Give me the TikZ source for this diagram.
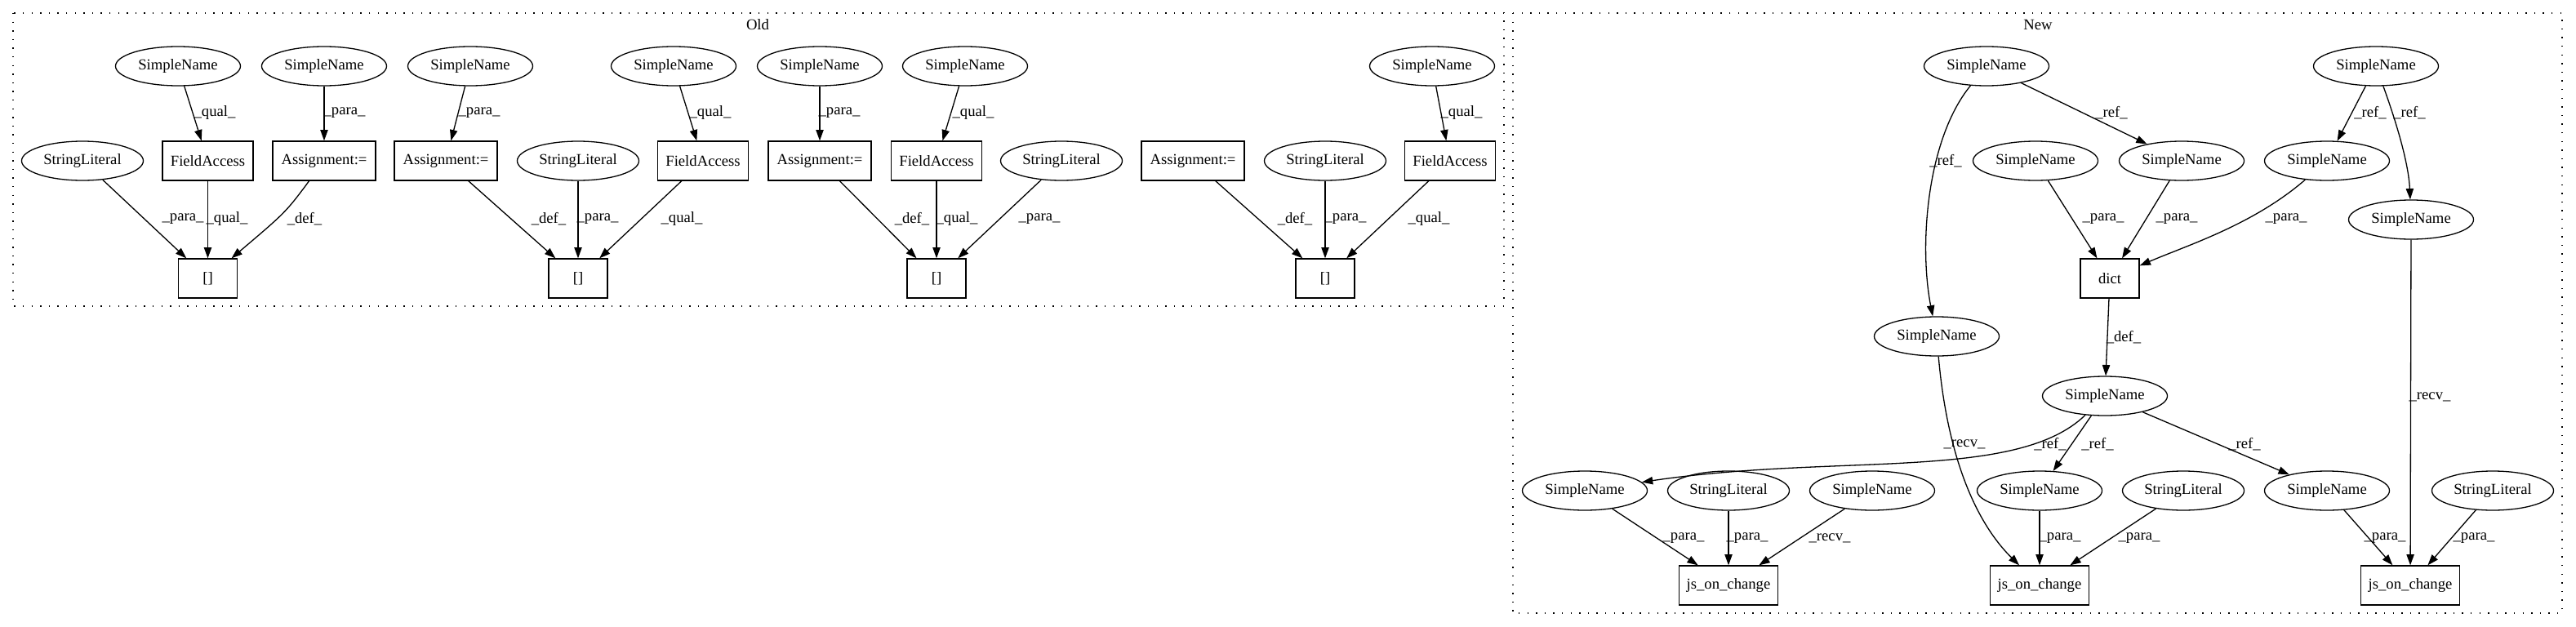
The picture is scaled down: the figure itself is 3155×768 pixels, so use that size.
\documentclass[tikz,border=0pt]{standalone}
\usepackage{fontspec}
\setmainfont{Liberation Serif}
\usetikzlibrary{shapes.geometric,arrows.meta}
\newcommand\gvf{\fontsize{18.67}{22}\selectfont}
\tikzset{
  base/.style={draw, line width=1.3pt, inner sep=0pt, font=\gvf, minimum height=48pt},
  sn/.style={base, ellipse, minimum width=153pt},
  sl/.style={base, ellipse, minimum width=149pt},
  fa/.style={base, rectangle, minimum width=111pt},
  as/.style={base, rectangle, minimum width=126pt},
  br/.style={base, rectangle, minimum width=72pt},
  js/.style={base, rectangle, minimum width=121pt},
  edge/.style={-{Triangle[length=13.3pt,width=9.3pt]}, line width=1.3pt},
  lbl/.style={font=\gvf, inner sep=0pt},
  cluster/.style={line width=1.4pt, dash pattern=on 1.4pt off 9.2pt}
}
\begin{document}
\begin{tikzpicture}[x=1pt,y=-1pt]
\useasboundingbox (0,0) rectangle (3155,768);
% clusters
\draw[cluster] (16,16) rectangle (1842,375);
\draw[cluster] (1853,16) rectangle (3138,751);
\node[lbl] (oldlbl) at (928,30) {Old};
\node[lbl] (newlbl) at (2496,30) {New};

% ---------------- Old ----------------
\node[sl] (osl1) at (101,197) {StringLiteral};
\node[sn] (osn1) at (218,81) {SimpleName};
\node[fa] (ofa1) at (254.5,197) {FieldAccess};
\node[sn] (osn2) at (397,81) {SimpleName};
\node[as] (oas1) at (397,197) {Assignment:=};
\node[br] (obr1) at (254.5,341) {[]};

\node[sn] (osn3) at (576,81) {SimpleName};
\node[as] (oas2) at (546,197) {Assignment:=};
\node[sl] (osl2) at (708,197) {StringLiteral};
\node[sn] (osn4) at (825,81) {SimpleName};
\node[fa] (ofa2) at (861,197) {FieldAccess};
\node[br] (obr2) at (708,341) {[]};

\node[sn] (osn5) at (1004,81) {SimpleName};
\node[as] (oas3) at (1004,197) {Assignment:=};
\node[sn] (osn6) at (1182,81) {SimpleName};
\node[fa] (ofa3) at (1147,197) {FieldAccess};
\node[sl] (osl3) at (1300,197) {StringLiteral};
\node[br] (obr3) at (1147,341) {[]};

\node[as] (oas4) at (1461,197) {Assignment:=};
\node[sl] (osl4) at (1623,197) {StringLiteral};
\node[sn] (osn7) at (1754,81) {SimpleName};
\node[fa] (ofa4) at (1776,197) {FieldAccess};
\node[br] (obr4) at (1623,341) {[]};

\draw[edge] (osn1) -- (ofa1);
\draw[edge] (osn2) -- (oas1);
\draw[edge] (osl1) -- (obr1);
\draw[edge] (ofa1) -- (obr1);
\draw[edge] (oas1) .. controls (350,260) .. (obr1);
\draw[edge] (osn3) -- (oas2);
\draw[edge] (osn4) -- (ofa2);
\draw[edge] (oas2) -- (obr2);
\draw[edge] (osl2) -- (obr2);
\draw[edge] (ofa2) -- (obr2);
\draw[edge] (osn5) -- (oas3);
\draw[edge] (osn6) -- (ofa3);
\draw[edge] (oas3) -- (obr3);
\draw[edge] (ofa3) -- (obr3);
\draw[edge] (osl3) -- (obr3);
\draw[edge] (osn7) -- (ofa4);
\draw[edge] (oas4) -- (obr4);
\draw[edge] (osl4) -- (obr4);
\draw[edge] (ofa4) -- (obr4);

\node[lbl] (ol1) at (263,138) {\_qual\_};
\node[lbl] (ol2) at (422,138) {\_para\_};
\node[lbl] (ol3) at (224,268) {\_para\_};
\node[lbl] (ol4) at (278,268) {\_qual\_};
\node[lbl] (ol5) at (373,268) {\_def\_};
\node[lbl] (ol6) at (587,138) {\_para\_};
\node[lbl] (ol7) at (870,138) {\_qual\_};
\node[lbl] (ol8) at (672,268) {\_def\_};
\node[lbl] (ol9) at (732,268) {\_para\_};
\node[lbl] (ol10) at (835,268) {\_qual\_};
\node[lbl] (ol11) at (1028,138) {\_para\_};
\node[lbl] (ol12) at (1192,138) {\_qual\_};
\node[lbl] (ol13) at (1117,268) {\_def\_};
\node[lbl] (ol14) at (1172,268) {\_qual\_};
\node[lbl] (ol15) at (1273,268) {\_para\_};
\node[lbl] (ol16) at (1790,138) {\_qual\_};
\node[lbl] (ol17) at (1586,268) {\_def\_};
\node[lbl] (ol18) at (1648,268) {\_para\_};
\node[lbl] (ol19) at (1750,268) {\_qual\_};

% ---------------- New ----------------
\node[sn] (na) at (2433,81) {SimpleName};
\node[sn] (ne) at (2910,81) {SimpleName};
\node[sn] (nb) at (2493,197) {SimpleName};
\node[sn] (nc) at (2672,197) {SimpleName};
\node[sn] (ng) at (2953,269) {SimpleName};
\node[br] (ndict) at (2584,341) {dict};
\node[sn] (nd) at (2372,412) {SimpleName};
\node[sn] (nj) at (2578,485) {SimpleName};
\node[sn] (nh) at (1941,601) {SimpleName};
\node[sl] (nsla) at (2117,601) {StringLiteral};
\node[sn] (ni) at (2293,601) {SimpleName};
\node[sn] (nk) at (2498,601) {SimpleName};
\node[sl] (nslb) at (2674,601) {StringLiteral};
\node[sn] (nl) at (2850,601) {SimpleName};
\node[sl] (nslc) at (3053,601) {StringLiteral};
\node[js] (njs1) at (2117,717) {js\_on\_change};
\node[js] (njs2) at (2498,717) {js\_on\_change};
\node[js] (njs3) at (2952,717) {js\_on\_change};
\node[sn] (nf) at (2850,197) {SimpleName};

\draw[edge] (na) .. controls (2360,170) and (2350,300) .. (nd);
\draw[edge] (na) -- (nc);
\draw[edge] (ne) -- (nf);
\draw[edge] (ne) .. controls (2935,150) and (2950,200) .. (ng);
\draw[edge] (nb) -- (ndict);
\draw[edge] (nc) -- (ndict);
\draw[edge] (nf) .. controls (2760,275) and (2680,300) .. (ndict);
\draw[edge] (ndict) -- (nj);
\draw[edge] (ng) -- (njs3);
\draw[edge] (nd) .. controls (2385,560) and (2420,640) .. (njs2);
\draw[edge] (nj) .. controls (2470,590) and (2250,555) .. (nh);
\draw[edge] (nj) -- (nk);
\draw[edge] (nj) -- (nl);
\draw[edge] (nh) -- (njs1);
\draw[edge] (nsla) -- (njs1);
\draw[edge] (ni) -- (njs1);
\draw[edge] (nk) -- (njs2);
\draw[edge] (nslb) -- (njs2);
\draw[edge] (nl) -- (njs3);
\draw[edge] (nslc) -- (njs3);

\node[lbl] (nl1) at (2586,138) {\_ref\_};
\node[lbl] (nl2) at (2383,197) {\_ref\_};
\node[lbl] (nl3) at (2903,138) {\_ref\_};
\node[lbl] (nl4) at (2951,138) {\_ref\_};
\node[lbl] (nl5) at (2576,268) {\_para\_};
\node[lbl] (nl6) at (2666,268) {\_para\_};
\node[lbl] (nl7) at (2800,268) {\_para\_};
\node[lbl] (nl8) at (2601,413) {\_def\_};
\node[lbl] (nl9) at (2976,486) {\_recv\_};
\node[lbl] (nl10) at (2406,544) {\_recv\_};
\node[lbl] (nl11) at (2511,544) {\_ref\_};
\node[lbl] (nl12) at (2569,544) {\_ref\_};
\node[lbl] (nl13) at (2749,544) {\_ref\_};
\node[lbl] (nl14) at (2062,659) {\_para\_};
\node[lbl] (nl15) at (2140,659) {\_para\_};
\node[lbl] (nl16) at (2241,659) {\_recv\_};
\node[lbl] (nl17) at (2523,659) {\_para\_};
\node[lbl] (nl18) at (2620,659) {\_para\_};
\node[lbl] (nl19) at (2921,659) {\_para\_};
\node[lbl] (nl20) at (3030,659) {\_para\_};
\end{tikzpicture}
\end{document}
